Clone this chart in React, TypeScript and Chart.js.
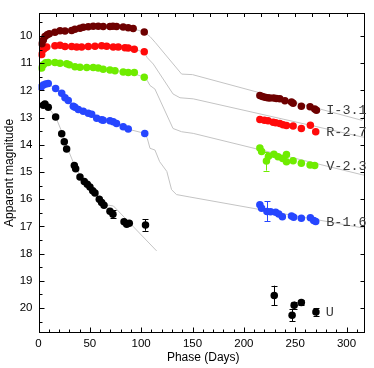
import React, { useEffect, useRef } from 'react';
import { Chart, registerables } from 'chart.js';

Chart.register(...registerables);

// ---------- Data ----------
const iDays = [3.3, 4.7, 6.3, 8.5, 10.5, 16, 21, 25.8, 32.3, 35.5, 40.4, 43.6, 48.5, 53.3, 58.2, 63, 69.6, 72.5, 76, 82.5, 87.4, 92.2, 103,
  215.6, 218, 220.5, 223, 225.3, 229, 231.7, 235, 240, 246.4, 248, 256, 264.5, 269, 270.7];
const iMags = [10.28, 10.15, 10.02, 9.95, 9.92, 9.86, 9.81, 9.82, 9.8, 9.75, 9.71, 9.68, 9.66, 9.64, 9.64, 9.65, 9.65, 9.64, 9.65, 9.67, 9.7, 9.72, 9.85,
  12.19, 12.22, 12.25, 12.27, 12.28, 12.28, 12.3, 12.31, 12.38, 12.43, 12.47, 12.58, 12.6, 12.68, 12.73];

const rDays = [3.1, 4.7, 6.3, 8, 16, 21, 25.8, 32.3, 37.2, 42, 48.5, 55, 61.5, 66.4, 72.8, 77.7, 84.2, 87.4, 93.3, 103,
  215.6, 220, 223.6, 228.5, 231, 235, 238.2, 241.5, 248, 256, 264.8, 270];
const rMags = [10.68, 10.5, 10.44, 10.4, 10.36, 10.34, 10.39, 10.39, 10.4, 10.4, 10.39, 10.38, 10.36, 10.38, 10.4, 10.4, 10.43, 10.44, 10.49, 10.58,
  13.07, 13.1, 13.12, 13.17, 13.19, 13.22, 13.26, 13.29, 13.31, 13.4, 13.28, 13.52];

const vDays = [3.1, 4.7, 7, 9.5, 16, 21, 27.5, 30, 35.5, 40.4, 47, 53.3, 58.2, 63, 69.6, 74.5, 82.5, 87.4, 93.3, 103,
  215.6, 217.3, 222, 224, 229.3, 233.3, 237.8, 241.5, 241.5, 248, 256, 264.5, 269];
const vMags = [11.18, 11.06, 10.98, 10.97, 10.97, 11.0, 11.02, 11.06, 11.13, 11.15, 11.16, 11.16, 11.18, 11.22, 11.25, 11.28, 11.32, 11.34, 11.34, 11.52,
  14.12, 14.25, 14.6, 14.42, 14.35, 14.44, 14.5, 14.36, 14.62, 14.59, 14.68, 14.74, 14.76];
const vErrs = [0, 0, 0, 0, 0, 0, 0, 0, 0, 0, 0, 0, 0, 0, 0, 0, 0, 0, 0, 0,
  0, 0, 0.35, 0, 0, 0, 0, 0, 0, 0, 0, 0, 0];

const bDays = [2.4, 4.7, 7, 9.5, 16.7, 22.6, 25.8, 29, 33.9, 35.5, 38.8, 43.6, 48.5, 51.8, 56.7, 61.5, 63, 69.6, 72.8, 76, 82.5, 87.4, 103.5,
  215.6, 217.3, 222.5, 226, 231, 234, 237.5, 246.4, 248.5, 256, 264.8, 268, 270];
const bMags = [11.88, 11.8, 11.76, 11.75, 11.93, 12.1, 12.27, 12.37, 12.58, 12.62, 12.7, 12.77, 12.84, 12.88, 13.02, 13.08, 13.1, 13.12, 13.15, 13.22, 13.34, 13.42, 13.58,
  16.2, 16.33, 16.45, 16.46, 16.48, 16.54, 16.65, 16.62, 16.66, 16.7, 16.68, 16.78, 16.82];
const bErrs = [0, 0, 0, 0, 0, 0, 0, 0, 0, 0, 0, 0, 0, 0, 0, 0, 0, 0, 0, 0, 0, 0, 0,
  0, 0, 0.37, 0, 0, 0, 0, 0, 0, 0, 0, 0, 0];

const uDays = [4.7, 6.3, 9.5, 16.7, 22.6, 25.1, 27.4, 34.9, 36.2, 40.4, 44.6, 47.5, 50.1, 52.8, 55, 59.2, 61.5, 63.8, 69.6, 72.5, 83.3, 85.9, 88.4, 104.2,
  229.6, 247, 249, 256, 270.2];
const uMags = [12.55, 12.5, 12.62, 12.98, 13.59, 13.89, 14.15, 14.76, 14.88, 15.18, 15.35, 15.45, 15.55, 15.69, 15.77, 16.0, 16.12, 16.22, 16.44, 16.55, 16.83, 16.92, 16.88, 16.95,
  19.54, 20.27, 19.9, 19.8, 20.15];
const uErrs = [0, 0, 0, 0, 0, 0, 0, 0, 0, 0, 0, 0, 0, 0, 0, 0, 0, 0, 0, 0.15, 0, 0, 0, 0.21,
  0.36, 0.22, 0.13, 0.08, 0.15];

// Model (template) curves, shifted
const iModelDays = [3, 8, 20, 40, 60, 90, 103, 108.6, 114, 139.4, 150, 315, 318];
const iModelMags = [10.3, 9.98, 9.84, 9.72, 9.65, 9.7, 9.86, 10.02, 10.25, 11.4, 11.42, 13.1, 12.88];
const rModelDays = [3, 8, 20, 50, 90, 103, 106, 111.8, 131, 137.8, 150.7, 315, 318];
const rModelMags = [10.68, 10.42, 10.35, 10.39, 10.44, 10.6, 10.8, 11.03, 12.13, 12.27, 12.31, 13.71, 13.72];
const vModelDays = [3, 8, 20, 50, 90, 103, 106, 108.6, 113.4, 131, 139.4, 150.7, 315, 318];
const vModelMags = [11.18, 10.98, 10.98, 11.16, 11.34, 11.52, 11.64, 11.82, 11.95, 13.4, 13.52, 13.58, 15.1, 15.12];
const bModelDays = [2, 8, 15, 30, 50, 70, 90, 103.5, 106, 108.6, 113.4, 118, 125, 129.6, 134.4, 147.5, 315, 318];
const bModelMags = [11.88, 11.76, 11.88, 12.43, 12.87, 13.13, 13.45, 13.58, 13.77, 14.13, 14.19, 14.62, 14.98, 15.65, 15.83, 15.92, 17.05, 17.06];
const uModelDays = [5, 10, 17, 23, 28, 35, 41, 50, 60, 65, 73, 115];
const uModelMags = [12.5, 12.65, 13.0, 13.55, 14.1, 14.75, 15.15, 15.55, 16.0, 16.2, 16.25, 17.9];

// Band labels
const labelTexts = ['I-3.1', 'R-2.7', 'V-2.3', 'B-1.6', 'U'];
const labelDays = [280.2, 280.2, 280.2, 280.2, 279.8];
const labelMags = [12.74, 13.53, 14.8, 16.87, 20.18];

// Axes
const xTickValues = [0, 50, 100, 150, 200, 250, 300];
const yTickValues = [10, 11, 12, 13, 14, 15, 16, 17, 18, 19, 20];
const X_MIN = 0, X_MAX = 318, Y_MIN = 9.15, Y_MAX = 20.92;

const SANS = '"Liberation Sans", Arial, Helvetica, sans-serif';
const MONO = '"Liberation Mono", "Courier New", monospace';

const pts = (xs: number[], ys: number[]) => xs.map((x, i) => ({ x, y: ys[i] }));

const framePlugin = {
  id: 'frame',
  afterDatasetsDraw(chart: any) {
    const { ctx, chartArea: a, scales } = chart;
    const x = scales.x, y = scales.y;
    ctx.save();
    ctx.strokeStyle = '#000';
    ctx.lineWidth = 1;
    const L = Math.round(a.left) + 0.5, R = Math.round(a.right) - 0.5;
    const T = Math.round(a.top) + 0.5, B = Math.round(a.bottom) - 0.5;
    ctx.strokeRect(L, T, R - L, B - T);
    ctx.beginPath();
    for (let d = 10; d < X_MAX; d += 10) {
      const px = Math.round(x.getPixelForValue(d)) + 0.5;
      const len = d % 50 === 0 ? 5 : 3;
      ctx.moveTo(px, B); ctx.lineTo(px, B - len);
    }
    for (let k = 1; (k * 50) / 3 < X_MAX; k++) {
      const px = Math.round(x.getPixelForValue((k * 50) / 3)) + 0.5;
      ctx.moveTo(px, T); ctx.lineTo(px, T + 3.5);
    }
    for (let m = 9.5; m < Y_MAX; m += 0.5) {
      const py = Math.round(y.getPixelForValue(m)) + 0.5;
      const len = Math.abs(m - Math.round(m)) < 0.01 ? 5 : 3;
      ctx.moveTo(L, py); ctx.lineTo(L + len, py);
    }
    for (let m = 10; m < Y_MAX; m += 1) {
      const py = Math.round(y.getPixelForValue(m)) + 0.5;
      ctx.moveTo(R, py); ctx.lineTo(R - 4, py);
    }
    ctx.stroke();

    // axis titles
    ctx.fillStyle = '#000';
    ctx.font = `12px ${SANS}`;
    ctx.textAlign = 'center';
    ctx.textBaseline = 'middle';
    ctx.fillText('Phase (Days)', (a.left + a.right) / 2 + 1.5, 357.5);
    ctx.save();
    ctx.translate(10, (a.top + a.bottom) / 2);
    ctx.rotate(-Math.PI / 2);
    ctx.fillText('Apparent magnitude', 0, 0);
    ctx.restore();

    // band labels
    ctx.beginPath();
    ctx.rect(0, 0, 368, chart.height);
    ctx.clip();
    ctx.fillStyle = '#3a3a3a';
    ctx.font = `13.5px ${MONO}`;
    ctx.textAlign = 'left';
    labelTexts.forEach((t, i) => {
      ctx.fillText(t, x.getPixelForValue(labelDays[i]), y.getPixelForValue(labelMags[i]));
    });
    ctx.restore();
  },
};

const errorPlugin = {
  id: 'errbars',
  beforeDatasetsDraw(chart: any) {
    const { ctx, scales } = chart;
    const x = scales.x, y = scales.y;
    ctx.save();
    ctx.lineWidth = 1;
    chart.data.datasets.forEach((ds: any) => {
      if (!ds.errs) return;
      ctx.strokeStyle = ds.backgroundColor;
      ctx.beginPath();
      ds.data.forEach((p: any, i: number) => {
        const e = ds.errs[i];
        if (!e) return;
        const px = Math.round(x.getPixelForValue(p.x)) + 0.5;
        const y1 = y.getPixelForValue(p.y - e);
        const y2 = y.getPixelForValue(p.y + e);
        ctx.moveTo(px, y1); ctx.lineTo(px, y2);
        ctx.moveTo(px - 3, Math.round(y1) + 0.5); ctx.lineTo(px + 3, Math.round(y1) + 0.5);
        ctx.moveTo(px - 3, Math.round(y2) + 0.5); ctx.lineTo(px + 3, Math.round(y2) + 0.5);
      });
      ctx.stroke();
    });
    ctx.restore();
  },
};

export default function App() {
  const ref = useRef<HTMLCanvasElement>(null);
  useEffect(() => {
    if (!ref.current) return;
    const model = (xs: number[], ys: number[]) => ({
      type: 'line' as const,
      data: pts(xs, ys),
      borderColor: '#c4c4c4',
      borderWidth: 1,
      pointRadius: 0,
      showLine: true,
      fill: false,
      order: 5,
      tension: 0,
    });
    const scat = (xs: number[], ys: number[], color: string, errs?: number[]) => ({
      type: 'scatter' as const,
      data: pts(xs, ys),
      backgroundColor: color,
      borderColor: color,
      borderWidth: 0,
      pointRadius: 3.75,
      order: 1,
      errs,
    });
    const chart = new Chart(ref.current, {
      type: 'scatter',
      data: {
        datasets: [
          scat(iDays, iMags, '#6e0000'),
          scat(rDays, rMags, '#ff0a0a'),
          scat(vDays, vMags, '#6fec00', vErrs),
          scat(bDays, bMags, '#2646ff', bErrs),
          scat(uDays, uMags, '#000000', uErrs),
          model(iModelDays, iModelMags),
          model(rModelDays, rModelMags),
          model(vModelDays, vModelMags),
          model(bModelDays, bModelMags),
          model(uModelDays, uModelMags),
        ] as any,
      },
      options: {
        animation: false,
        responsive: false,
        maintainAspectRatio: false,
        layout: { padding: { left: 0, right: 9, top: 10, bottom: 0 } },
        plugins: { legend: { display: false }, tooltip: { enabled: false } },
        scales: {
          x: {
            type: 'linear',
            min: X_MIN,
            max: X_MAX,
            grid: { display: false, drawTicks: false, tickLength: 0 },
            border: { display: false },
            ticks: { padding: 4, color: '#000', font: { family: SANS, size: 11.5 }, autoSkip: false, maxRotation: 0 },
            afterBuildTicks: (s: any) => { s.ticks = xTickValues.map((v) => ({ value: v })); },
            afterFit: (s: any) => { s.height = 35; },
          },
          y: {
            type: 'linear',
            reverse: true,
            min: Y_MIN,
            max: Y_MAX,
            grid: { display: false, drawTicks: false, tickLength: 0 },
            border: { display: false },
            ticks: { padding: 6, color: '#000', font: { family: SANS, size: 11.5 }, autoSkip: false },
            afterBuildTicks: (s: any) => { s.ticks = yTickValues.map((v) => ({ value: v })); },
            afterFit: (s: any) => { s.width = 38.5; },
          },
        },
      } as any,
      plugins: [errorPlugin, framePlugin],
    });
    return () => chart.destroy();
  }, []);
  return (
    <div style={{ position: 'fixed', left: 0, top: 0, width: 374, height: 368, background: '#fff' }}>
      <canvas ref={ref} width={374} height={368} style={{ display: 'block', width: 374, height: 368 }} />
    </div>
  );
}
